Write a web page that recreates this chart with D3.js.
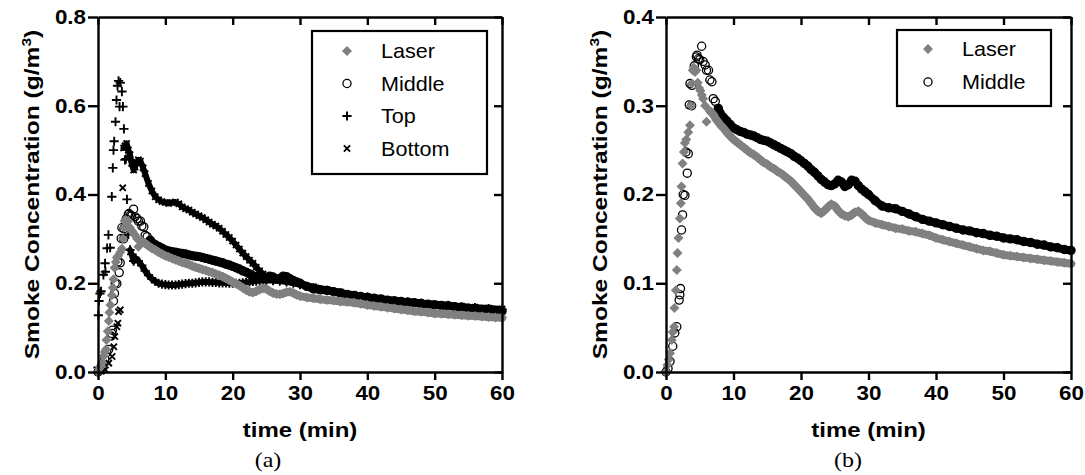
<!DOCTYPE html>
<html>
<head>
<meta charset="utf-8">
<script src="https://cdn.jsdelivr.net/npm/d3@7"></script>
<style>
  html, body { margin: 0; padding: 0; background: #fff; }
  svg { display: block; }
</style>
</head>
<body>
<svg id="chart" width="1085" height="475"></svg>
<script>
// ---------------- DATA (time in min, concentration in g/m^3) ----------------
const xTicks = [0, 10, 20, 30, 40, 50, 60];
const yTicksA = [0.0, 0.2, 0.4, 0.6, 0.8];
const yTicksB = [0.0, 0.1, 0.2, 0.3, 0.4];
const seriesNamesA = ["Laser", "Middle", "Top", "Bottom"];
const seriesNamesB = ["Laser", "Middle"];
const captions = ["(a)", "(b)"];

const laser = [[0,0],[0.2,0.008],[0.4,0.014],[0.6,0.021],[0.85,0.036],[1.0,0.045],[1.2,0.051],[1.25,0.072],[1.45,0.092],[1.6,0.115],[1.7,0.134],[1.85,0.151],[2.05,0.173],[2.2,0.19],[2.3,0.209],[2.45,0.235],[2.65,0.248],[2.8,0.258],[3.0,0.262],[3.3,0.27],[3.55,0.278],[3.7,0.30],[3.85,0.325],[3.95,0.34],[4.1,0.343],[4.3,0.338],[4.5,0.34],[4.7,0.326],[4.9,0.32],[5.1,0.317],[5.3,0.312],[5.5,0.308],[5.8,0.30],[6.0,0.282],[6.5,0.294],[7,0.29],[7.5,0.284],[8,0.279],[8.5,0.275],[9,0.27],[9.5,0.266],[10,0.262],[10.5,0.259],[11,0.256],[11.5,0.253],[12,0.25],[12.5,0.247],[13,0.245],[13.5,0.242],[14,0.239],[14.5,0.236],[15,0.234],[15.5,0.231],[16,0.229],[16.5,0.226],[17,0.224],[17.5,0.221],[18,0.218],[18.5,0.215],[19,0.211],[19.5,0.207],[20,0.203],[20.5,0.199],[21,0.195],[21.5,0.19],[22,0.185],[22.5,0.181],[23,0.179],[23.5,0.182],[24,0.186],[24.5,0.189],[25,0.187],[25.5,0.182],[26,0.178],[26.5,0.176],[27,0.175],[27.5,0.177],[28,0.18],[28.5,0.181],[29,0.178],[29.5,0.174],[30,0.171],[31,0.168],[32,0.166],[33,0.164],[34,0.162],[35,0.161],[36,0.159],[37,0.158],[38,0.156],[39,0.154],[40,0.151],[41,0.149],[42,0.147],[43,0.145],[44,0.143],[45,0.141],[46,0.139],[47,0.137],[48,0.136],[49,0.134],[50,0.132],[51,0.131],[52,0.13],[53,0.129],[54,0.128],[55,0.127],[56,0.126],[57,0.125],[58,0.124],[59,0.123],[60,0.122]];

const middle = [[0,0],[0.3,0.004],[0.6,0.012],[1.0,0.029],[1.3,0.044],[1.6,0.051],[1.95,0.081],[2.05,0.087],[2.15,0.094],[2.3,0.16],[2.45,0.177],[2.55,0.2],[2.8,0.199],[2.95,0.248],[3.15,0.224],[3.3,0.246],[3.45,0.301],[3.55,0.325],[3.8,0.30],[3.85,0.323],[4.2,0.345],[4.5,0.355],[4.6,0.357],[4.8,0.353],[5.0,0.352],[5.28,0.367],[5.5,0.35],[5.8,0.346],[6.0,0.34],[6.3,0.34],[6.5,0.329],[6.8,0.327],[7.0,0.308],[7.3,0.305],[7.75,0.297],[8,0.292],[8.5,0.287],[9,0.283],[9.5,0.279],[10,0.275],[10.5,0.273],[11,0.271],[11.5,0.27],[12,0.268],[12.5,0.267],[13,0.266],[13.5,0.264],[14,0.262],[14.5,0.261],[15,0.26],[15.5,0.258],[16,0.256],[16.5,0.254],[17,0.252],[17.5,0.25],[18,0.248],[18.5,0.246],[19,0.243],[19.5,0.241],[20,0.238],[20.5,0.235],[21,0.232],[21.5,0.228],[22,0.225],[22.5,0.221],[23,0.217],[23.5,0.214],[24,0.211],[24.5,0.21],[25,0.212],[25.5,0.216],[26,0.214],[26.5,0.209],[27,0.211],[27.5,0.216],[28,0.215],[28.5,0.21],[29,0.206],[29.5,0.203],[30,0.2],[31,0.193],[32,0.187],[33,0.185],[34,0.184],[35,0.181],[36,0.178],[37,0.175],[38,0.172],[39,0.17],[40,0.168],[41,0.166],[42,0.164],[43,0.162],[44,0.16],[45,0.159],[46,0.157],[47,0.156],[48,0.154],[49,0.153],[50,0.151],[51,0.15],[52,0.149],[53,0.147],[54,0.146],[55,0.144],[56,0.143],[57,0.141],[58,0.14],[59,0.138],[60,0.137]];

const topSensor = [[0,0.01],[0.05,0.128],[0.15,0.16],[0.3,0.177],[0.45,0.182],[0.8,0.219],[1.05,0.245],[1.1,0.226],[1.35,0.279],[1.55,0.309],[1.8,0.28],[2.05,0.395],[2.2,0.46],[2.3,0.5],[2.4,0.52],[2.6,0.564],[2.75,0.613],[2.9,0.645],[3.05,0.656],[3.2,0.598],[3.3,0.652],[3.55,0.632],[3.7,0.598],[3.85,0.548],[4.0,0.478],[4.15,0.48],[4.3,0.389],[4.5,0.31],[4.75,0.275],[5.0,0.265],[5.3,0.25],[5.6,0.256],[6.0,0.25],[6.5,0.24],[7,0.228],[7.5,0.218],[8,0.21],[8.5,0.204],[9,0.2],[9.5,0.198],[10,0.197],[10.5,0.196],[11,0.196],[11.5,0.196],[12,0.197],[12.5,0.198],[13,0.199],[13.5,0.2],[14,0.2],[14.5,0.201],[15,0.202],[15.5,0.203],[16,0.203],[16.5,0.203],[17,0.202],[17.5,0.202],[18,0.201],[18.5,0.201],[19,0.201],[19.5,0.2],[20,0.2],[20.5,0.2],[21,0.2],[21.5,0.201],[22,0.202],[22.5,0.203],[23,0.204],[23.5,0.205],[24,0.206],[24.5,0.206],[25,0.206],[26,0.206],[27,0.205],[28,0.203],[29,0.2],[30,0.197],[32,0.19],[34,0.184],[36,0.178],[38,0.173],[40,0.169],[42,0.165],[44,0.161],[46,0.158],[48,0.155],[50,0.152],[52,0.15],[54,0.147],[56,0.145],[58,0.143],[60,0.141]];

const bottomSensor = [[0,0],[0.5,0.002],[1.1,0.005],[1.6,0.02],[2.1,0.035],[2.35,0.057],[2.5,0.08],[2.8,0.102],[2.95,0.11],[3.05,0.136],[3.3,0.14],[3.67,0.415],[3.8,0.505],[4.0,0.51],[4.25,0.515],[4.5,0.5],[4.75,0.49],[5.0,0.47],[5.3,0.455],[5.5,0.462],[5.75,0.472],[6.0,0.478],[6.3,0.475],[6.7,0.46],[7.0,0.447],[7.5,0.425],[8.0,0.408],[8.5,0.395],[9,0.388],[9.5,0.384],[10,0.382],[10.5,0.38],[11,0.382],[11.5,0.383],[12,0.379],[12.5,0.372],[13,0.368],[13.5,0.365],[14,0.36],[14.5,0.356],[15,0.352],[15.5,0.348],[16,0.343],[16.5,0.338],[17,0.333],[17.5,0.329],[18,0.324],[18.5,0.317],[19,0.31],[19.5,0.303],[20,0.295],[20.5,0.286],[21,0.277],[21.5,0.268],[22,0.26],[22.5,0.252],[23,0.245],[23.5,0.236],[24,0.228],[24.5,0.221],[25,0.215],[26,0.211],[27,0.209],[28,0.207],[29,0.203],[30,0.199],[32,0.192],[34,0.186],[36,0.18],[38,0.175],[40,0.17],[42,0.166],[44,0.162],[46,0.159],[48,0.156],[50,0.153],[52,0.151],[54,0.148],[56,0.146],[58,0.144],[60,0.142]];

// ---------------- STYLE ----------------
const SANS = "'Liberation Sans', Arial, Helvetica, sans-serif";
const SERIF = "'Liberation Serif', 'Times New Roman', serif";
const GRAY = "#808080";
const SX = 1.12;   // horizontal stretch of the original lettering

const markerPaths = {
  diamond: d3.symbol(d3.symbolSquare, 50)(),
  circle: d3.symbol(d3.symbolCircle, 52)(),
  plus: "M-4.6,0H4.6M0,-4.6V4.6",
  cross: "M-3.1,-3.1L3.1,3.1M-3.1,3.1L3.1,-3.1"
};
const styles = {
  Laser:  {data: laser, marker: "diamond", fill: GRAY, stroke: "none", sw: 0, rot: 45, band: 6.2, bandW: 8, bandColor: GRAY},
  Middle: {data: middle, marker: "circle", fill: "none", stroke: "#000", sw: 1.3, rot: 0, band: 7.75, bandW: 8, bandColor: "#000"},
  Top:    {data: topSensor, marker: "plus", fill: "none", stroke: "#000", sw: 1.9, rot: 0, band: 4.75, bandW: 6, bandColor: "#000"},
  Bottom: {data: bottomSensor, marker: "cross", fill: "none", stroke: "#000", sw: 1.9, rot: 0, band: 3.8, bandW: 6, bandColor: "#000"}
};

const svg = d3.select("#chart");

function stretchTicks(sel, sx) {
  sel.selectAll(".tick text").each(function () {
    const t = d3.select(this);
    const x = +(t.attr("x") || 0);
    t.attr("x", x / sx).attr("transform", `scale(${sx},1)`);
  });
}

function panel(cfg) {
  const x = d3.scaleLinear().domain([0, 60]).range([cfg.x0, cfg.x1]);
  const y = d3.scaleLinear().domain([0, cfg.yMax]).range([cfg.yB, cfg.yT]);
  const g = svg.append("g");

  const order = cfg.names.slice().reverse();
  const line = d3.line().x(d => x(d[0])).y(d => y(d[1]));
  order.forEach(name => {
    const s = styles[name];
    const sg = g.append("g");
    sg.append("path")
      .datum(s.data.filter(d => d[0] >= s.band))
      .attr("d", line)
      .attr("fill", "none")
      .attr("stroke", s.bandColor)
      .attr("stroke-width", s.bandW)
      .attr("stroke-linejoin", "round")
      .attr("stroke-linecap", "round");
    sg.selectAll("path.m").data(s.data).join("path")
      .attr("class", "m")
      .attr("d", markerPaths[s.marker])
      .attr("transform", d => `translate(${x(d[0])},${y(d[1])}) rotate(${s.rot})`)
      .attr("fill", s.fill)
      .attr("stroke", s.stroke)
      .attr("stroke-width", s.sw);
  });

  const fmt = d3.format(".1f");
  const gl = g.append("g").attr("transform", `translate(${cfg.x0},0)`)
    .call(d3.axisLeft(y).tickValues(cfg.yTicks).tickFormat(fmt).tickSizeInner(10).tickSizeOuter(0).tickPadding(2));
  const gb = g.append("g").attr("transform", `translate(0,${cfg.yB})`)
    .call(d3.axisBottom(x).tickValues(xTicks).tickFormat(d3.format("d")).tickSizeInner(8).tickSizeOuter(0).tickPadding(6));
  const gt = g.append("g").attr("transform", `translate(0,${cfg.yT})`)
    .call(d3.axisTop(x).tickValues(xTicks).tickFormat("").tickSizeInner(-8).tickSizeOuter(0));
  const gr = g.append("g").attr("transform", `translate(${cfg.x1},0)`)
    .call(d3.axisRight(y).tickValues(cfg.yTicks).tickFormat("").tickSizeInner(-8).tickSizeOuter(0));
  [gl, gb, gt, gr].forEach(a => {
    a.select(".domain").attr("stroke", "#000").attr("stroke-width", 2.4);
    a.selectAll(".tick line").attr("stroke", "#000").attr("stroke-width", 2.4);
    a.selectAll("text").attr("font-family", SANS).attr("font-weight", "bold")
      .attr("font-size", 20).attr("fill", "#000");
  });
  stretchTicks(gl, SX);
  stretchTicks(gb, SX);

  // axis titles
  g.append("text")
    .attr("transform", `translate(${(cfg.x0 + cfg.x1) / 2},437) scale(1.17,1)`)
    .attr("text-anchor", "middle")
    .attr("font-family", SANS).attr("font-weight", "bold").attr("font-size", 20.5)
    .text("time (min)");
  const yt = g.append("text")
    .attr("transform", `translate(${cfg.x0 - 59},${(cfg.yT + cfg.yB) / 2}) rotate(-90) scale(1.2,1)`)
    .attr("text-anchor", "middle")
    .attr("font-family", SANS).attr("font-weight", "bold").attr("font-size", 20.5);
  yt.append("tspan").text("Smoke Concentration (g/m");
  yt.append("tspan").attr("font-size", 13).attr("dy", -8).text("3");
  yt.append("tspan").attr("dy", 8).text(")");

  // caption
  g.append("text")
    .attr("transform", `translate(${cfg.capX},467) scale(1.2,1)`)
    .attr("text-anchor", "middle")
    .attr("font-family", SERIF).attr("font-size", 20)
    .text(cfg.caption);

  // legend
  const L = cfg.legend;
  const lg = g.append("g");
  lg.append("rect").attr("x", L.x).attr("y", L.y).attr("width", L.w).attr("height", L.h)
    .attr("fill", "#fff").attr("stroke", "#000").attr("stroke-width", 2.2);
  cfg.names.forEach((name, i) => {
    const s = styles[name];
    const cy = L.y + L.first + i * L.step;
    lg.append("path")
      .attr("d", markerPaths[s.marker])
      .attr("transform", `translate(${L.mx},${cy}) rotate(${s.rot})`)
      .attr("fill", s.fill).attr("stroke", s.stroke).attr("stroke-width", s.sw);
    lg.append("text")
      .attr("transform", `translate(${L.tx},${cy}) scale(1.08,1)`)
      .attr("dy", "0.35em")
      .attr("font-family", SANS).attr("font-size", 20)
      .text(name);
  });
}

panel({x0: 98, x1: 502, yT: 17, yB: 372, yMax: 0.8, yTicks: yTicksA, names: seriesNamesA,
       caption: captions[0], capX: 268,
       legend: {x: 312, y: 31, w: 175, h: 143, first: 20, step: 32.5, mx: 347, tx: 381}});
panel({x0: 666, x1: 1071, yT: 17, yB: 372, yMax: 0.4, yTicks: yTicksB, names: seriesNamesB,
       caption: captions[1], capX: 848,
       legend: {x: 897, y: 30, w: 154, h: 76, first: 19, step: 33, mx: 928, tx: 962}});
</script>
</body>
</html>
